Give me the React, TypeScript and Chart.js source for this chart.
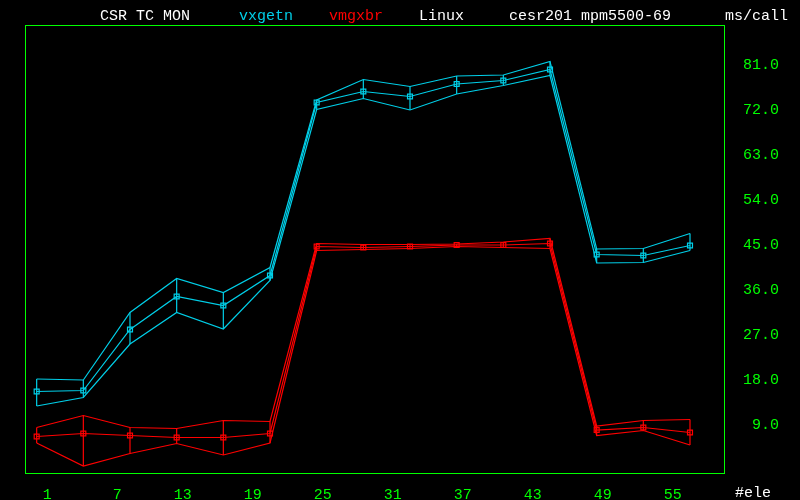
import React, { useEffect, useRef } from "react";
import { Chart, registerables } from "chart.js";

Chart.register(...registerables);

const xValues = [1, 5, 9, 13, 17, 21, 25, 29, 33, 37, 41, 45, 49, 53, 57];
const xTickValues = [1, 7, 13, 19, 25, 31, 37, 43, 49, 55];
const yTickValues = [9, 18, 27, 36, 45, 54, 63, 72, 81];

const vxgetnMean = [15.7, 15.9, 28.1, 34.7, 32.9, 38.9, 73.5, 75.7, 74.7, 77.2, 77.9, 80.1, 43.1, 42.9, 44.9];
const vxgetnMax = [18.2, 18.0, 31.5, 38.3, 35.5, 40.5, 74.0, 78.1, 76.7, 78.8, 79.0, 81.7, 44.2, 44.3, 47.3];
const vxgetnMin = [12.8, 14.5, 25.2, 31.5, 28.2, 37.9, 72.1, 74.3, 72.0, 75.2, 76.9, 78.9, 41.4, 41.5, 43.9];

const vmgxbrMean = [6.7, 7.3, 6.9, 6.5, 6.5, 7.3, 44.7, 44.5, 44.7, 45.0, 45.0, 45.3, 8.0, 8.5, 7.5];
const vmgxbrMax = [8.5, 10.9, 8.5, 8.3, 9.9, 9.7, 45.3, 45.1, 45.1, 45.2, 45.6, 46.3, 8.8, 9.9, 10.1];
const vmgxbrMin = [5.4, 0.8, 3.3, 5.3, 3.0, 5.4, 43.9, 44.1, 44.3, 44.7, 44.5, 44.3, 6.9, 7.9, 5.0];

const CYAN = "#00cfe8";
const RED = "#ff0000";
const GREEN = "#00ff00";
const WHITE = "#ffffff";
const FONT = "'Liberation Mono', 'DejaVu Sans Mono', monospace";

function seriesDatasets(mean: number[], max: number[], min: number[], color: string) {
  const line = (vals: number[]) =>
    xValues.map((x, i) => ({ x, y: vals[i] }));
  const base = {
    borderColor: color,
    borderWidth: 1.2,
    pointRadius: 0,
    fill: false,
    tension: 0,
  };
  return [
    { ...base, data: line(max) },
    { ...base, data: line(min) },
    {
      ...base,
      spanGaps: false,
      data: xValues.flatMap((x, i) => [
        { x, y: min[i] },
        { x, y: max[i] },
        { x, y: null as any },
      ]),
    },
    {
      ...base,
      data: line(mean),
      pointStyle: "rect",
      pointRadius: 3.5,
      pointBorderColor: color,
      pointBackgroundColor: "rgba(0,0,0,0)",
      pointBorderWidth: 1.2,
    },
  ];
}

const decorPlugin = {
  id: "decor",
  beforeDraw(chart: any) {
    const { ctx, width, height } = chart;
    ctx.save();
    ctx.fillStyle = "#000";
    ctx.fillRect(0, 0, width, height);
    ctx.restore();
  },
  afterDraw(chart: any) {
    const { ctx, chartArea } = chart;
    const { left, top, right, bottom } = chartArea;
    ctx.save();
    ctx.strokeStyle = GREEN;
    ctx.lineWidth = 1;
    ctx.strokeRect(left + 0.5, top + 0.5, right - left - 1, bottom - top - 1);
    ctx.font = `15px ${FONT}`;
    ctx.textBaseline = "middle";
    ctx.textAlign = "left";
    const texts: [string, number, string][] = [
      ["CSR TC MON", 100, WHITE],
      ["vxgetn", 239, CYAN],
      ["vmgxbr", 329, RED],
      ["Linux", 419, WHITE],
      ["cesr201 mpm5500-69", 509, WHITE],
      ["ms/call", 725, WHITE],
    ];
    texts.forEach(([t, x, c]) => {
      ctx.fillStyle = c;
      ctx.fillText(t, x, 16);
    });
    ctx.fillStyle = WHITE;
    ctx.fillText("#ele", 735, 493);
    ctx.restore();
  },
};

export default function App() {
  const ref = useRef<HTMLCanvasElement | null>(null);
  useEffect(() => {
    if (!ref.current) return;
    const chart = new Chart(ref.current, {
      type: "line",
      data: {
        datasets: [
          ...seriesDatasets(vxgetnMean, vxgetnMax, vxgetnMin, CYAN),
          ...seriesDatasets(vmgxbrMean, vmgxbrMax, vmgxbrMin, RED),
        ] as any,
      },
      options: {
        animation: false,
        responsive: false,
        events: [],
        layout: { padding: { left: 25, top: 25, right: 21, bottom: 0 } },
        plugins: { legend: { display: false }, tooltip: { enabled: false }, title: { display: false } },
        scales: {
          x: {
            type: "linear",
            min: 0,
            max: 60,
            grid: { display: false, drawTicks: false },
            border: { display: false },
            afterBuildTicks: (s: any) => {
              s.ticks = xTickValues.map((v) => ({ value: v }));
            },
            afterFit: (s: any) => {
              s.height = 26;
            },
            ticks: {
              autoSkip: false,
              maxRotation: 0,
              align: "start",
              labelOffset: -3,
              padding: 12,
              color: GREEN,
              font: { family: FONT, size: 15 },
              callback: (v: any) => String(v).padStart(2, " "),
            },
          },
          y: {
            type: "linear",
            position: "right",
            min: -0.8,
            max: 89,
            grid: { display: false, drawTicks: false },
            border: { display: false },
            afterBuildTicks: (s: any) => {
              s.ticks = yTickValues.map((v) => ({ value: v }));
            },
            afterFit: (s: any) => {
              s.width = 54;
            },
            ticks: {
              crossAlign: "far",
              color: GREEN,
              font: { family: FONT, size: 15 },
              callback: (v: any) => Number(v).toFixed(1),
            },
          },
        },
      },
      plugins: [decorPlugin],
    });
    return () => chart.destroy();
  }, []);
  return (
    <div style={{ position: "absolute", left: 0, top: 0, width: 800, height: 500, background: "#000" }}>
      <canvas ref={ref} width={800} height={500} />
    </div>
  );
}
